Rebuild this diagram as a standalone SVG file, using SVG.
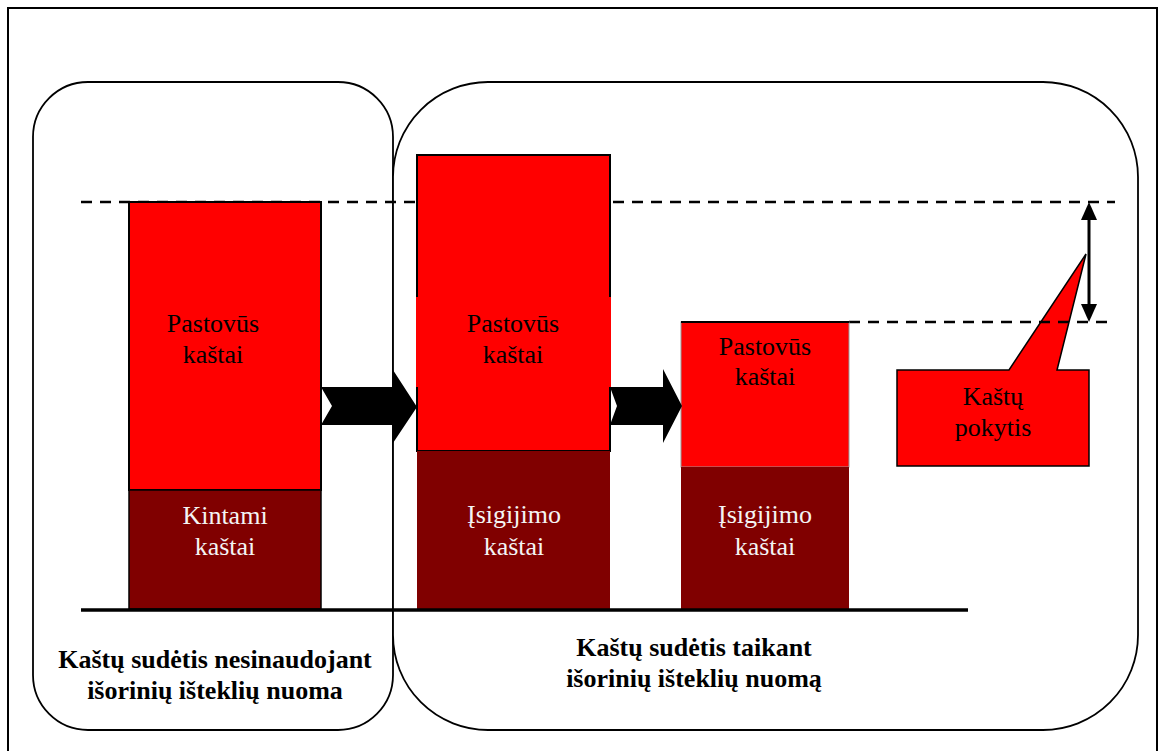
<svg xmlns="http://www.w3.org/2000/svg" width="1163" height="751" viewBox="0 0 1163 751">
  <style>
    .frame { fill: none; stroke: #000; stroke-width: 2; }
    .panel { fill: #fff; stroke: #000; stroke-width: 1.8; }
    .fixed { fill: #ff0000; }
    .acq { fill: #800000; }
    .dash { stroke: #000; stroke-width: 2.5; stroke-dasharray: 11 8; fill: none; }
    .base { stroke: #000; stroke-width: 3.5; }
    .blk { fill: #000; }
    text { font-family: 'Liberation Serif', 'DejaVu Serif', serif; font-size: 26px; text-anchor: middle; }
    .dark { fill: #000; }
    .light { fill: #f4f4f4; }
    .bold { font-weight: bold; fill: #000; }
  </style>

  <rect width="1163" height="751" fill="#fff"/>
  <!-- outer frame -->
  <rect class="frame" x="8" y="8" width="1149" height="750"/>

  <!-- panels -->
  <g id="panel-without">
    <rect class="panel" x="33" y="82" width="360" height="648" rx="55" ry="55"/>
  </g>
  <g id="panel-with">
    <rect class="panel" x="393" y="82" width="745" height="648" rx="95" ry="95"/>
  </g>

  <!-- cost change callout -->
  <g id="callout">
    <path d="M897,370 H1009 L1086,254 L1057,370 H1089 V466 H897 Z" fill="#ff0000" stroke="#000" stroke-width="1.5"/>
    <text class="dark" x="993" y="405" font-family="Liberation Serif, serif">Kaštų</text>
    <text class="dark" x="993" y="436" font-family="Liberation Serif, serif">pokytis</text>
  </g>

  <!-- reference levels -->
  <g id="levels">
    <line class="dash" x1="81" y1="202" x2="1115" y2="202"/>
    <line class="dash" x1="849" y1="322" x2="1115" y2="322"/>
  </g>

  <!-- bar 1: without outsourcing -->
  <g id="bar-1">
    <rect class="fixed" x="129" y="202" width="192" height="288" stroke="#000" stroke-width="2"/>
    <rect class="acq" x="129" y="490" width="192" height="119" stroke="#000" stroke-width="1.5"/>
    <text class="dark" x="213" y="332">Pastovūs</text>
    <text class="dark" x="213" y="363">kaštai</text>
    <text class="light" x="225" y="524">Kintami</text>
    <text class="light" x="225" y="555">kaštai</text>
  </g>

  <!-- bar 2: with outsourcing -->
  <g id="bar-2">
    <rect class="fixed" x="417" y="155" width="193" height="296" stroke="#000" stroke-width="2"/>
    <rect class="fixed" x="416" y="297" width="195" height="90"/>
    <rect class="acq" x="417" y="451" width="193" height="158"/>
    <text class="dark" x="513" y="332">Pastovūs</text>
    <text class="dark" x="513" y="363">kaštai</text>
    <text class="light" x="514" y="523">Įsigijimo</text>
    <text class="light" x="514" y="555">kaštai</text>
  </g>

  <!-- bar 3: reduced fixed costs -->
  <g id="bar-3">
    <rect class="fixed" x="681" y="322" width="168" height="145" stroke="#999" stroke-width="1"/>
    <line x1="681" y1="322" x2="849" y2="322" stroke="#000" stroke-width="2"/>
    <rect class="acq" x="681" y="467" width="168" height="142"/>
    <text class="dark" x="765" y="355">Pastovūs</text>
    <text class="dark" x="765" y="385">kaštai</text>
    <text class="light" x="765" y="523">Įsigijimo</text>
    <text class="light" x="765" y="555">kaštai</text>
  </g>

  <!-- connectors -->
  <g id="connectors">
    <polygon class="blk" points="321,387 393,387 393,370 417,407 393,443 393,425 321,425 332,406"/>
    <polygon class="blk" points="610,387 663,387 663,369 682,406 663,443 663,425 610,425 617,406"/>
    <line class="base" x1="81" y1="610" x2="968" y2="610"/>
    <line x1="1089" y1="216" x2="1089" y2="308" stroke="#000" stroke-width="3"/>
    <polygon class="blk" points="1089,202 1081,220 1097,220"/>
    <polygon class="blk" points="1089,322 1081,304 1097,304"/>
  </g>

  <!-- panel captions -->
  <g id="captions">
    <text class="bold" x="215" y="668">Kaštų sudėtis nesinaudojant</text>
    <text class="bold" x="215" y="699">išorinių išteklių nuoma</text>
    <text class="bold" x="694" y="656">Kaštų sudėtis taikant</text>
    <text class="bold" x="694" y="687">išorinių išteklių nuomą</text>
  </g>
</svg>
